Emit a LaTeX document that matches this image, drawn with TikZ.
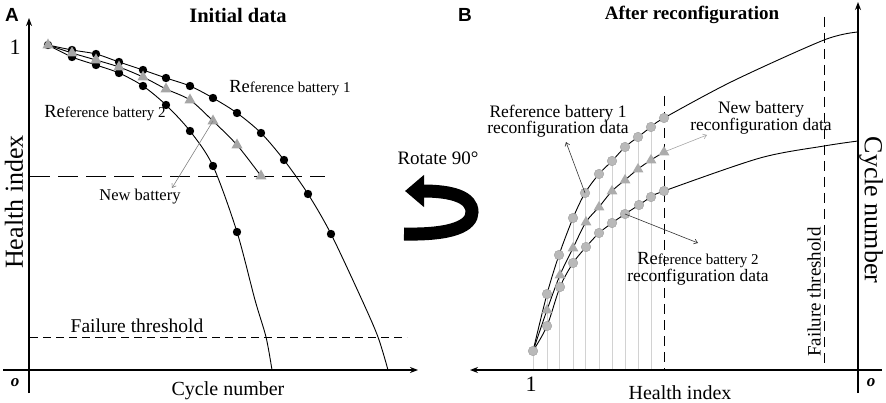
\documentclass[tikz,border=0pt]{standalone}
\usepackage{fontspec}
\setmainfont{Liberation Serif}
\setsansfont{Liberation Sans}
\usetikzlibrary{arrows.meta}
\newcommand{\fs}[1]{\fontsize{#1}{#1}\selectfont}
\newcommand{\Rebig}{{\fs{18.5}Re}}
\begin{document}
\begin{tikzpicture}[x=1pt, y=-1pt,
    axis/.style={line width=1.4pt, -{Stealth[length=8pt,width=6pt]}},
    curve/.style={line width=0.9pt},
    thr/.style={line width=0.9pt, dash pattern=on 8pt off 5pt},
    ptr/.style={line width=0.6pt, -{Straight Barb[length=3.5pt,width=5pt]}},
    lab/.style={font=\fs{15}},
    lab2/.style={align=center, font=\fontsize{17.5}{16.5}\selectfont},
    grid/.style={gray!35, line width=0.6pt}]
\useasboundingbox (0,0) rectangle (886,403);

% ---- panel A: initial data
\node[font=\sffamily\bfseries\fs{19}] (pa) at (12,15) {A};
\node[font=\bfseries\fs{20.5}] (ta) at (238,15) {Initial data};
\draw[axis] (29,393) -- (29,18);
\draw[axis] (3,370) -- (418,370);
\node[font=\fs{22}] (one) at (15,47) {1};
\node[font=\bfseries\itshape\fs{17}] (oa) at (15,383) {o};
\node[font=\fs{20}] (xa) at (228,391) {Cycle number};
\node[font=\fs{26}, rotate=90] (ya) at (14,202) {Health index};
\draw[line width=0.9pt, dash pattern=on 20pt off 8pt] (30,176) -- (325,176);
\draw[thr] (30,337) -- (407,337);
\node[font=\fs{19.5}] (fa) at (137,326) {Failure threshold};

\draw[curve] plot[smooth] coordinates {(48,45) (72,50) (96,54) (119,62) (143,70) (166,78) (190,86) (213,98) (237,113) (261,133) (284,160) (308,194) (331,234) (362,300) (378,337) (388,370)};
\draw[curve] plot[smooth] coordinates {(48,45) (72,53) (96,60) (119,67) (143,77) (166,89) (190,100) (213,121) (237,145) (261,176)};
\draw[curve] plot[smooth] coordinates {(48,45) (72,57) (96,65) (119,73) (143,86) (166,105) (190,131) (213,166) (237,232) (255,300) (266,337) (272,370)};
\foreach \x/\y [count=\i] in {72/50,96/54,119/62,143/70,166/78,190/86,213/98,237/113,261/133,284/160,308/194,331/234}
  {\coordinate (ra\i) at (\x,\y); \fill (ra\i) circle (4.2pt);}
\foreach \x/\y [count=\i] in {72/57,96/65,119/73,143/86,166/105,190/131,213/166,237/232}
  {\coordinate (rb\i) at (\x,\y); \fill (rb\i) circle (4.2pt);}
\coordinate (s0) at (48,45);
\fill (s0) circle (4.2pt);
\foreach \x/\y [count=\i] in {48/45,72/53,96/60,119/67,143/77,166/89,190/100,213/121,237/145,261/176}
  {\coordinate (nb\i) at (\x,\y); \fill[gray!70] (nb\i) +(0,-6.5) -- +(5.6,3.5) -- +(-5.6,3.5) -- cycle;}
\node[lab] (lra) at (290,88) {\Rebig ference battery 1};
\node[lab] (lrb) at (105,113) {\Rebig ference battery 2};
\node[font=\fs{16.5}] (lnb) at (140,197) {New battery};
\coordinate (lnbtip) at (172,188);
\draw[ptr, gray] (nb8) -- (lnbtip);

% ---- rotation arrow
\node[font=\fs{19}] (rot) at (438,158) {Rotate 90°};
\coordinate (rs) at (404,234); \coordinate (re) at (405,191);
\draw[line width=13pt, -{Triangle[length=19pt,width=31pt]}] (rs) .. controls (452,235) and (472,226) .. (472,212) .. controls (472,197) and (452,191) .. (re);

% ---- panel B: after reconfiguration
\node[font=\sffamily\bfseries\fs{19}] (pb) at (465,15) {B};
\node[font=\bfseries\fs{19}] (tb) at (692,15) {After reconfiguration};
\foreach \x/\y in {533/351,547/294,559/255,573/218,585/193,599/174,612/161,625/147,638/137,651/127}
  \draw[grid] (\x,370) -- (\x,\y-5);
\draw[axis] (858,393) -- (858,2);
\draw[axis] (882,370) -- (470,370);
\node[font=\fs{22}] (oneb) at (531,384) {1};
\node[font=\bfseries\itshape\fs{17}] (ob) at (871,383) {o};
\node[font=\fs{20}] (xb) at (680,393) {Health index};
\node[font=\fs{26}, rotate=-90] (yb) at (871,210) {Cycle number};
\draw[line width=0.9pt, dash pattern=on 10pt off 6pt] (664,96) -- (664,370);
\draw[line width=0.9pt, dash pattern=on 10pt off 6pt] (824,17) -- (824,370);
\node[font=\fs{19}, rotate=90] (fb) at (814,292) {Failure threshold};

\draw[curve] plot[smooth] coordinates {(533,351) (547,294) (559,255) (573,218) (585,193) (599,174) (612,161) (625,147) (638,137) (651,127) (664,118) (733,81) (824,40) (858,32)};
\draw[curve] plot[smooth] coordinates {(533,351) (547,310) (560,275) (573,248) (586,222) (599,207) (612,191) (625,180) (638,169) (651,160) (664,152)};
\draw[curve] plot[smooth] coordinates {(533,351) (547,326) (560,287) (573,263) (586,247) (599,233) (612,223) (625,214) (639,205) (651,197) (664,191) (760,158) (824,146) (858,141)};
\foreach \x/\y [count=\i] in {533/351,547/294,559/255,573/218,585/193,599/174,612/161,625/147,638/137,651/127,664/118}
  {\coordinate (ta\i) at (\x,\y); \filldraw[fill=gray!55, draw=gray!75] (ta\i) circle (4.8pt);}
\foreach \x/\y [count=\i] in {547/326,560/287,573/263,586/247,599/233,612/223,625/214,639/205,651/197,664/191}
  {\coordinate (tb\i) at (\x,\y); \filldraw[fill=gray!55, draw=gray!75] (tb\i) circle (4.8pt);}
\foreach \x/\y [count=\i] in {547/310,560/275,573/248,586/222,599/207,612/191,625/180,638/169,651/160,664/152}
  {\coordinate (tn\i) at (\x,\y); \fill[gray!65] (tn\i) +(0,-6) -- +(5.4,3.3) -- +(-5.4,3.3) -- cycle;}
\node[lab2] (lta) at (558,121) {Reference battery 1\\reconfiguration data};
\node[lab2] (ltn) at (761,118) {New battery\\reconfiguration data};
\node[lab2] (ltb) at (698,269) {\Rebig{\fs{15}ference battery 2}\\reconfiguration data};
\coordinate (ltatip) at (566,142);
\coordinate (ltntip) at (707,135);
\coordinate (ltbtip) at (698,243);
\draw[ptr, gray!40!black] (ta5) -- (ltatip);
\draw[ptr, gray!70] (tn10) -- (ltntip);
\draw[ptr, gray!40!black] (tb7) -- (ltbtip);
\end{tikzpicture}
\end{document}
